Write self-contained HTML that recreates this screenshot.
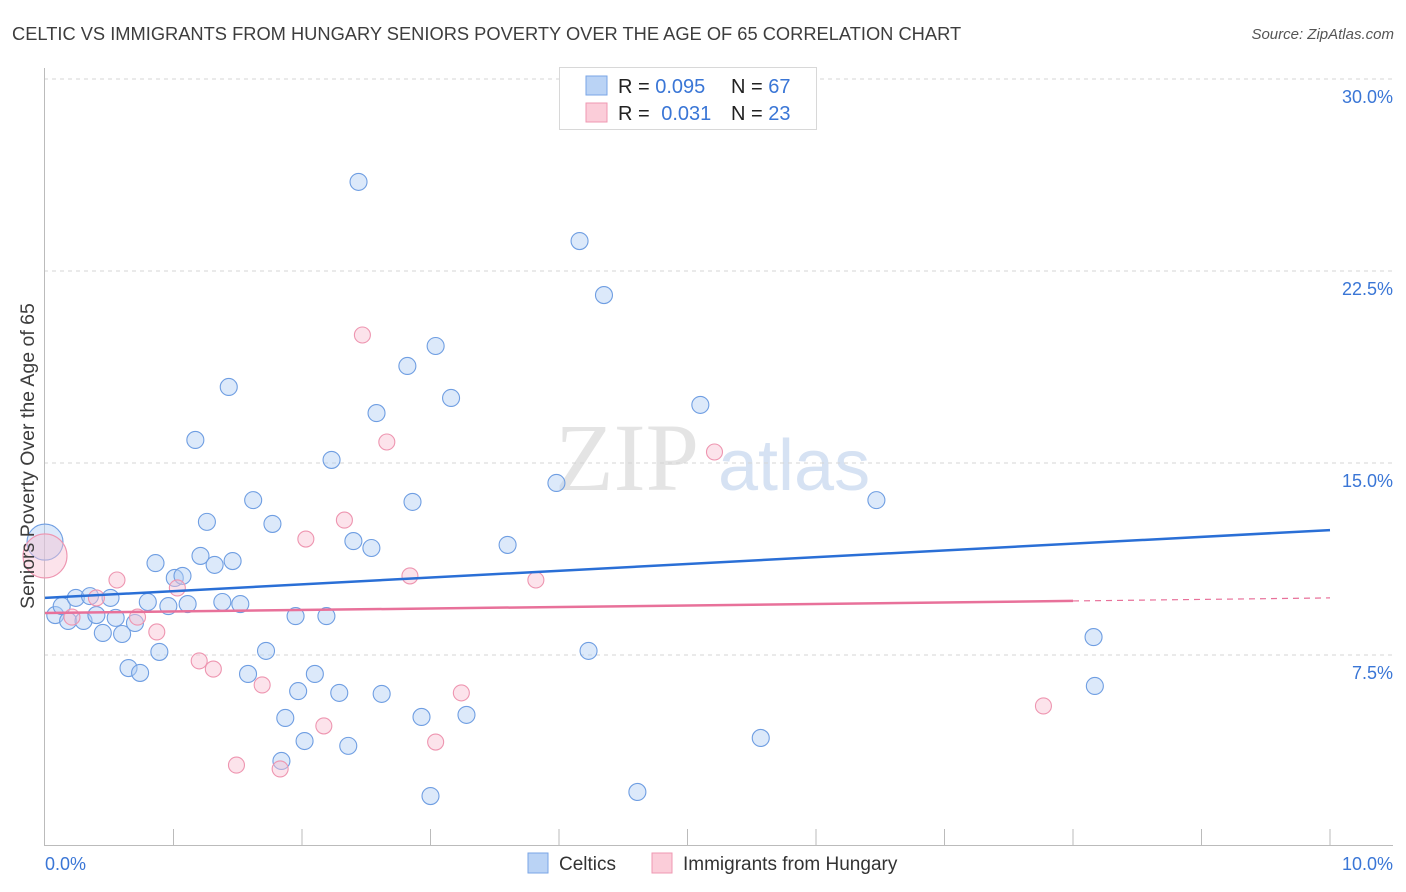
<!DOCTYPE html>
<html><head><meta charset="utf-8"><style>
body{margin:0;background:#fff;font-family:"Liberation Sans",sans-serif;}
svg{display:block}
</style></head><body>
<svg id="chart" width="1406" height="892">
<text x="12" y="40" font-size="18.3" fill="#3d3d3d">CELTIC VS IMMIGRANTS FROM HUNGARY SENIORS POVERTY OVER THE AGE OF 65 CORRELATION CHART</text>
<text x="1394" y="39" font-size="15" fill="#555" font-style="italic" text-anchor="end">Source: ZipAtlas.com</text>
<g>
<text x="555" y="490" font-size="96" fill="#e4e4e4" font-family="Liberation Serif">ZIP</text>
<text x="718" y="490" font-size="72" fill="#d6e2f3">atlas</text>
</g>
<g id="grid"></g>
<g id="axes"></g>
<g id="marks"></g>
<text transform="translate(34,456) rotate(-90)" font-size="19.5" fill="#3d3d3d" text-anchor="middle">Seniors Poverty Over the Age of 65</text>
<g>
<rect x="559.5" y="67.5" width="257" height="62" fill="#fff" stroke="#d8d8d8"/>
<rect x="586" y="76" width="21" height="19" fill="#bad3f5" stroke="#7aa6e6"/>
<rect x="586" y="103" width="21" height="19" fill="#fbcdd9" stroke="#ef98b2"/>
<text x="618" y="93" font-size="20" fill="#222">R = <tspan fill="#3a76d6">0.095</tspan></text>
<text x="731" y="93" font-size="20" fill="#222">N = <tspan fill="#3a76d6">67</tspan></text>
<text x="618" y="120" font-size="20" fill="#222">R = <tspan fill="#3a76d6" dx="6">0.031</tspan></text>
<text x="731" y="120" font-size="20" fill="#222">N = <tspan fill="#3a76d6">23</tspan></text>
</g>
<g>
<rect x="528" y="853" width="20" height="20" fill="#bad3f5" stroke="#7aa6e6"/>
<text x="559" y="870" font-size="19" fill="#333">Celtics</text>
<rect x="652" y="853" width="20" height="20" fill="#fbcdd9" stroke="#ef98b2"/>
<text x="683" y="870" font-size="19" fill="#333">Immigrants from Hungary</text>
</g>
</svg>
<script>
const yTicks=[7.5,15,22.5,30];
const yTickLabels=["7.5%","15.0%","22.5%","30.0%"];
const xTickLabels=["0.0%","10.0%"];
const celticsX=[0.00,0.08,0.13,0.18,0.24,0.30,0.35,0.40,0.45,0.51,0.55,0.60,0.70,0.65,0.74,0.80,0.86,0.89,0.96,1.01,1.07,1.11,1.17,1.21,1.26,1.32,1.38,1.43,1.46,1.52,1.58,1.62,1.72,1.77,1.87,1.84,1.95,1.97,2.02,2.10,2.19,2.23,2.29,2.36,2.40,2.44,2.54,2.58,2.62,2.82,2.86,2.93,3.00,3.04,3.16,3.28,3.60,3.98,4.16,4.23,4.35,4.61,5.10,5.57,6.47,8.16,8.17];
const celticsY=[11.91,9.06,9.41,8.83,9.73,8.83,9.80,9.06,8.36,9.73,8.95,8.32,8.75,6.99,6.80,9.57,11.09,7.62,9.41,10.51,10.59,9.49,15.90,11.37,12.70,11.02,9.57,17.97,11.17,9.49,6.76,13.55,7.66,12.62,5.04,3.36,9.02,6.09,4.14,6.76,9.02,15.12,6.02,3.95,11.95,25.98,11.68,16.95,5.98,18.79,13.48,5.08,1.99,19.57,17.54,5.16,11.80,14.22,23.67,7.66,21.56,2.15,17.27,4.26,13.55,8.20,6.29];
const hungaryX=[0.00,0.21,0.40,0.56,0.72,0.87,1.03,1.20,1.31,1.49,1.69,1.83,2.03,2.17,2.33,2.47,2.66,2.84,3.04,3.24,3.82,5.21,7.77];
const hungaryY=[11.37,8.98,9.73,10.43,8.98,8.40,10.12,7.27,6.95,3.20,6.33,3.05,12.03,4.73,12.77,20.00,15.82,10.59,4.10,6.02,10.43,15.43,5.51];
const celticsTrend=[9.73,12.38];
const hungaryTrend=[9.14,9.73];
const hungarySolidEnd=8;

const NS="http://www.w3.org/2000/svg";
const X0=45,X1=1330,Y0=847,PXY=25.6;
const sx=v=>X0+v*(X1-X0)/10;
const sy=v=>Y0-v*PXY;
function mk(tag,attrs,parent){const e=document.createElementNS(NS,tag);for(const k in attrs)e.setAttribute(k,attrs[k]);parent.appendChild(e);return e;}
const grid=document.getElementById('grid'),axes=document.getElementById('axes'),marks=document.getElementById('marks');
yTicks.forEach((t,i)=>{
  const l=mk('line',{x1:44,x2:1393,y1:sy(t),y2:sy(t),stroke:'#d5d5d5','stroke-dasharray':'4,4'},grid);
  
  
  const tx=mk('text',{x:1393,y:sy(t)+24,'font-size':18,fill:'#3a76d6','text-anchor':'end'},axes);
  tx.textContent=yTickLabels[i];
  
  
});
let a=mk('line',{x1:44.5,x2:44.5,y1:68,y2:846,stroke:'#bbb'},axes);


a=mk('line',{x1:44,x2:1393,y1:845.5,y2:845.5,stroke:'#bbb'},axes);


for(let i=1;i<=10;i++){
  const t=mk('line',{x1:sx(i),x2:sx(i),y1:829,y2:845,stroke:'#bbb'},axes);
  
  
}
[[0,'start',45],[10,'end',1393]].forEach((p,i)=>{
  const tx=mk('text',{x:p[2],y:870,'font-size':18,fill:'#3a76d6','text-anchor':p[1]},axes);
  tx.textContent=xTickLabels[i];
  
  
});
celticsX.forEach((x,i)=>{
  const c=mk('circle',{cx:sx(x),cy:sy(celticsY[i]),r:i===0?18:8.5,fill:'rgba(178,206,244,0.45)',stroke:'#6f9ee2','stroke-width':1.1},marks);
  
  
});
hungaryX.forEach((x,i)=>{
  const c=mk('circle',{cx:sx(x),cy:sy(hungaryY[i]),r:i===0?22:8,fill:'rgba(249,194,210,0.45)',stroke:'#ee95b0','stroke-width':1.1},marks);
  
  
});
let ln=mk('line',{x1:sx(0),y1:sy(celticsTrend[0]),x2:sx(10),y2:sy(celticsTrend[1]),stroke:'#2a6fd6','stroke-width':2.5},marks);


const hy=x=>hungaryTrend[0]+(hungaryTrend[1]-hungaryTrend[0])*x/10;
ln=mk('line',{x1:sx(0),y1:sy(hy(0)),x2:sx(hungarySolidEnd),y2:sy(hy(hungarySolidEnd)),stroke:'#e8719a','stroke-width':2.5},marks);


ln=mk('line',{x1:sx(hungarySolidEnd),y1:sy(hy(hungarySolidEnd)),x2:sx(10),y2:sy(hy(10)),stroke:'#e8719a','stroke-width':1.2,'stroke-dasharray':'6,5'},marks);


</script>
</body></html>
